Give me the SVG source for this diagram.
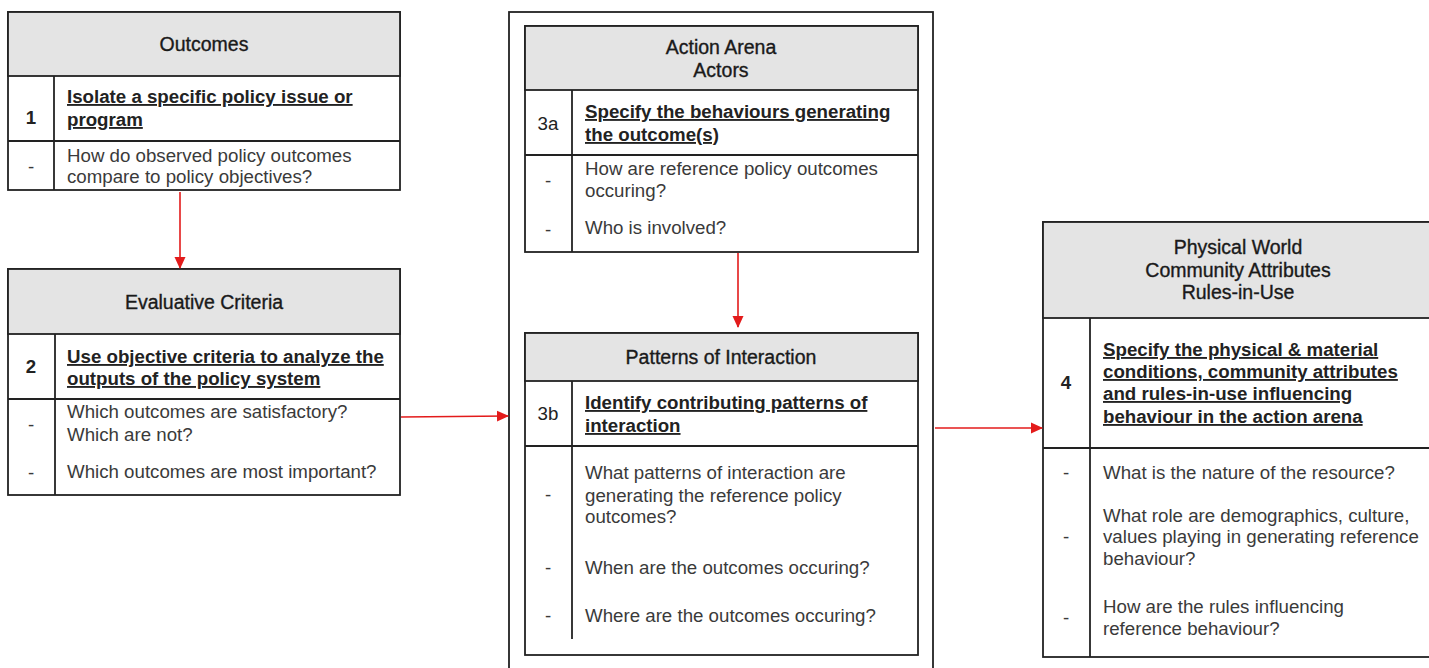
<svg xmlns="http://www.w3.org/2000/svg" width="1429" height="668" viewBox="0 0 1429 668">
  <defs>
    <marker id="arrow" viewBox="0 0 12 12" refX="11" refY="6" markerWidth="12" markerHeight="12" markerUnits="userSpaceOnUse" orient="auto">
      <path d="M0,0.5 L12,6 L0,11.5 Z" fill="#e31b1b"/>
    </marker>
    <style>
      text { font-family: "Liberation Sans", Arial, Helvetica, sans-serif; font-size: 18.7px; }
      .frame { fill: #ffffff; stroke: #222222; stroke-width: 1.8; }
      .head { fill: #e4e4e4; stroke: #222222; stroke-width: 1.8; }
      .rule { stroke: #222222; stroke-width: 1.8; fill: none; }
      .title { fill: #1a1a1a; stroke: #1a1a1a; stroke-width: 0.35; text-anchor: middle; font-size: 19.5px; }
      .step { fill: #222222; font-weight: bold; text-decoration: underline; }
      .num { fill: #222222; text-anchor: middle; }
      .numb { fill: #222222; text-anchor: middle; font-weight: bold; }
      .q { fill: #3a3a3a; }
      .dash { fill: #3a3a3a; text-anchor: middle; }
      .link { stroke: #e31b1b; stroke-width: 1.6; fill: none; marker-end: url(#arrow); }
    </style>
  </defs>

  <rect width="1429" height="668" fill="#ffffff"/>

  <!-- Action arena container -->
  <g id="action-arena-frame">
    <rect class="frame" x="509" y="12" width="424" height="670"/>
  </g>

  <!-- Step 1: Outcomes -->
  <g id="outcomes">
    <rect class="frame" x="8" y="12" width="392" height="178"/>
    <rect class="head" x="8" y="12" width="392" height="64"/>
    <line class="rule" x1="8" y1="141" x2="400" y2="141"/>
    <line class="rule" x1="54" y1="76" x2="54" y2="190"/>
    <text class="title" x="204" y="51">Outcomes</text>
    <text class="numb" x="31" y="124">1</text>
    <text class="step" x="67" y="103">Isolate a specific policy issue or</text>
    <text class="step" x="67" y="126">program</text>
    <text class="dash" x="31" y="173">-</text>
    <text class="q" x="67" y="162">How do observed policy outcomes</text>
    <text class="q" x="67" y="183">compare to policy objectives?</text>
  </g>

  <!-- Step 2: Evaluative criteria -->
  <g id="evaluative-criteria">
    <rect class="frame" x="8" y="269" width="392" height="226"/>
    <rect class="head" x="8" y="269" width="392" height="65"/>
    <line class="rule" x1="8" y1="399" x2="400" y2="399"/>
    <line class="rule" x1="55" y1="334" x2="55" y2="495"/>
    <text class="title" x="204" y="309">Evaluative Criteria</text>
    <text class="numb" x="31" y="373">2</text>
    <text class="step" x="67" y="363">Use objective criteria to analyze the</text>
    <text class="step" x="67" y="385">outputs of the policy system</text>
    <text class="dash" x="31" y="431">-</text>
    <text class="q" x="67" y="418">Which outcomes are satisfactory?</text>
    <text class="q" x="67" y="441">Which are not?</text>
    <text class="dash" x="31" y="479">-</text>
    <text class="q" x="67" y="478">Which outcomes are most important?</text>
  </g>

  <!-- Step 3a: Actors -->
  <g id="actors">
    <rect class="frame" x="525" y="26" width="393" height="226"/>
    <rect class="head" x="525" y="26" width="393" height="64"/>
    <line class="rule" x1="525" y1="155" x2="918" y2="155"/>
    <line class="rule" x1="572" y1="90" x2="572" y2="252"/>
    <text class="title" x="721" y="54">Action Arena</text>
    <text class="title" x="721" y="77">Actors</text>
    <text class="num" x="548" y="130">3a</text>
    <text class="step" x="585" y="118">Specify the behaviours generating</text>
    <text class="step" x="585" y="141">the outcome(s)</text>
    <text class="dash" x="548" y="187">-</text>
    <text class="q" x="585" y="175">How are reference policy outcomes</text>
    <text class="q" x="585" y="197">occuring?</text>
    <text class="dash" x="548" y="236">-</text>
    <text class="q" x="585" y="234">Who is involved?</text>
  </g>

  <!-- Step 3b: Patterns of interaction -->
  <g id="patterns-of-interaction">
    <rect class="frame" x="525" y="333" width="393" height="322"/>
    <rect class="head" x="525" y="333" width="393" height="48"/>
    <line class="rule" x1="525" y1="446" x2="918" y2="446"/>
    <line class="rule" x1="572" y1="381" x2="572" y2="639"/>
    <text class="title" x="721" y="364">Patterns of Interaction</text>
    <text class="num" x="548" y="420">3b</text>
    <text class="step" x="585" y="409">Identify contributing patterns of</text>
    <text class="step" x="585" y="432">interaction</text>
    <text class="dash" x="548" y="501">-</text>
    <text class="q" x="585" y="479">What patterns of interaction are</text>
    <text class="q" x="585" y="502">generating the reference policy</text>
    <text class="q" x="585" y="523">outcomes?</text>
    <text class="dash" x="548" y="574">-</text>
    <text class="q" x="585" y="574">When are the outcomes occuring?</text>
    <text class="dash" x="548" y="622">-</text>
    <text class="q" x="585" y="622">Where are the outcomes occuring?</text>
  </g>

  <!-- Step 4: Physical world, community attributes, rules-in-use -->
  <g id="context">
    <rect class="frame" x="1043" y="222" width="392" height="435"/>
    <rect class="head" x="1043" y="222" width="392" height="96"/>
    <line class="rule" x1="1043" y1="448" x2="1435" y2="448"/>
    <line class="rule" x1="1090" y1="318" x2="1090" y2="657"/>
    <text class="title" x="1238" y="254">Physical World</text>
    <text class="title" x="1238" y="277">Community Attributes</text>
    <text class="title" x="1238" y="299">Rules-in-Use</text>
    <text class="numb" x="1066" y="389">4</text>
    <text class="step" x="1103" y="356">Specify the physical &amp; material</text>
    <text class="step" x="1103" y="378">conditions, community attributes</text>
    <text class="step" x="1103" y="400">and rules-in-use influencing</text>
    <text class="step" x="1103" y="423">behaviour in the action arena</text>
    <text class="dash" x="1066" y="479">-</text>
    <text class="q" x="1103" y="479">What is the nature of the resource?</text>
    <text class="dash" x="1066" y="543">-</text>
    <text class="q" x="1103" y="522">What role are demographics, culture,</text>
    <text class="q" x="1103" y="543">values playing in generating reference</text>
    <text class="q" x="1103" y="565">behaviour?</text>
    <text class="dash" x="1066" y="624">-</text>
    <text class="q" x="1103" y="613">How are the rules influencing</text>
    <text class="q" x="1103" y="635">reference behaviour?</text>
  </g>

  <!-- Connectors -->
  <g id="connectors">
    <line class="link" x1="180" y1="192" x2="180" y2="268"/>
    <line class="link" x1="401" y1="417" x2="508" y2="416"/>
    <line class="link" x1="738" y1="253" x2="738" y2="327"/>
    <line class="link" x1="935" y1="428" x2="1042" y2="428"/>
  </g>
</svg>
